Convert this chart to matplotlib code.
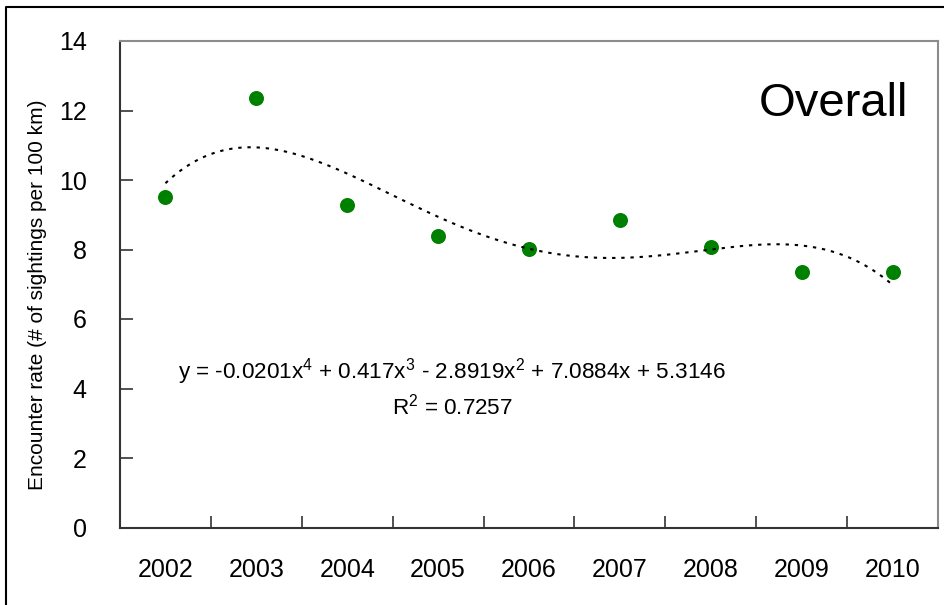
import numpy as np
import matplotlib
matplotlib.use("Agg")
import matplotlib.pyplot as plt
from matplotlib.lines import Line2D

plt.rcParams['font.family'] = ['Liberation Sans', 'DejaVu Sans']
plt.rcParams['mathtext.fontset'] = 'custom'
plt.rcParams['mathtext.rm'] = 'Liberation Sans'
plt.rcParams['mathtext.it'] = 'Liberation Sans'

# Data
years = ["2002", "2003", "2004", "2005", "2006", "2007", "2008", "2009", "2010"]
encounter_rate = [9.5, 12.37, 9.28, 8.4, 8.02, 8.85, 8.06, 7.35, 7.36]
# 4th-order polynomial trend (highest power first), x = 1..9
trend_coeffs = [-0.0201, 0.417, -2.8919, 7.0884, 5.3146]
r_squared = 0.7257
y_ticks = [0, 2, 4, 6, 8, 10, 12, 14]

W, H = 945, 605
fig = plt.figure(figsize=(W / 100, H / 100), dpi=100)

def fx(px):
    return px / W

def fy(py):
    return 1 - py / H

ax = fig.add_axes([fx(120), fy(527.5), fx(938) - fx(120), fy(41) - fy(527.5)])

x = np.arange(1, len(years) + 1)
ax.plot(x, encounter_rate, linestyle='none', marker='o', markersize=10.8,
        color='#008000', markeredgewidth=0, zorder=3)

xs = np.linspace(1, len(years), 300)
ax.plot(xs, np.polyval(trend_coeffs, xs), color='black', linewidth=1.5,
        linestyle=(0, (1.6, 2.8)), zorder=4)

ax.set_xlim(0.5, len(years) + 0.5)
ax.set_ylim(0, 14)
ax.set_yticks(y_ticks)
ax.set_yticklabels([str(v) for v in y_ticks], fontsize=18)

# tick marks sit between categories, labels at category centres
ax.set_xticks(np.arange(0.5, len(years) + 1, 1.0))
ax.set_xticklabels([])
ax.set_xticks(x, minor=True)
ax.set_xticklabels(years, minor=True, fontsize=18)
ax.tick_params(axis='x', which='major', direction='in', length=9, width=1.2, color='#333333')
ax.tick_params(axis='x', which='minor', length=0, pad=22)
ax.tick_params(axis='y', direction='in', length=9, width=1.2, color='#333333', pad=24)

for side in ('left', 'bottom'):
    ax.spines[side].set_color('#333333')
    ax.spines[side].set_linewidth(1.5)
for side in ('top', 'right'):
    ax.spines[side].set_color('#8c8c8c')
    ax.spines[side].set_linewidth(1.5)

fig.text(fx(38), fy(295), 'Encounter rate (# of sightings per 100 km)',
         rotation=90, ha='center', va='center', fontsize=15)

fig.text(fx(908), fy(104), 'Overall', ha='right', va='center', fontsize=34)

eq = (r'y = -0.0201x$^{4}$ + 0.417x$^{3}$ - 2.8919x$^{2}$ + 7.0884x + 5.3146')
fig.text(fx(452), fy(372), eq, ha='center', va='center', fontsize=16.2)
fig.text(fx(452), fy(407), r'R$^{2}$ = %.4f' % r_squared, ha='center', va='center', fontsize=16.2)

# outer chart frame
fig.add_artist(Line2D([fx(6), fx(6), fx(W + 5)], [fy(H + 5), fy(7), fy(7)],
                      transform=fig.transFigure, color='black', linewidth=1.5))

fig.savefig('out.png', dpi=100, facecolor='white')
